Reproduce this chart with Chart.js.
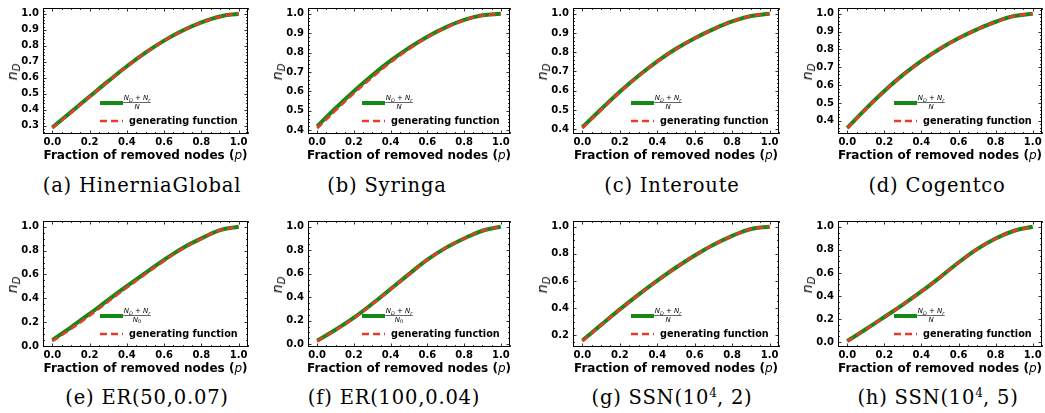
<!DOCTYPE html>
<html><head><meta charset="utf-8">
<script src="https://cdn.jsdelivr.net/npm/chart.js@4.4.0/dist/chart.umd.min.js"></script>
<style>
body{margin:0;width:1045px;height:413px;background:#fff;position:relative;overflow:hidden;font-family:'DejaVu Sans';}
canvas{position:absolute;}
.cap{position:absolute;font-family:'DejaVu Serif';font-size:19.5px;transform:translate(-50%,-50%);white-space:nowrap;letter-spacing:0.8px;color:#000;}
.cap sup{font-size:12px;vertical-align:0.55em;line-height:0;letter-spacing:0;}
.xl{position:absolute;font:bold 12px 'DejaVu Sans';transform:translate(-50%,-50%);white-space:nowrap;color:#000;}
.xl i{font-weight:normal;}
.yl{position:absolute;font:italic 14px 'DejaVu Sans';transform:translate(-50%,-50%) rotate(-90deg);white-space:nowrap;color:#000;}
.yl sub{font-size:10px;vertical-align:-0.25em;line-height:0;}
</style></head><body>
<script>
// ---- data ----
const p = [0.0, 0.1, 0.2, 0.3, 0.4, 0.5, 0.6, 0.7, 0.8, 0.9, 1.0];
const xTicks = [0.0, 0.2, 0.4, 0.6, 0.8, 1.0];

const aSim = [0.29, 0.386, 0.483, 0.579, 0.672, 0.757, 0.832, 0.895, 0.946, 0.983, 1.0];
const aGen = [0.285, 0.382, 0.480, 0.577, 0.670, 0.756, 0.831, 0.894, 0.945, 0.983, 1.0];
const bSim = [0.42, 0.513, 0.601, 0.683, 0.758, 0.824, 0.882, 0.93, 0.968, 0.992, 1.0];
const bGen = [0.41, 0.502, 0.59, 0.673, 0.75, 0.818, 0.878, 0.927, 0.966, 0.991, 1.0];
const cSim = [0.41, 0.504, 0.595, 0.678, 0.753, 0.818, 0.873, 0.92, 0.96, 0.988, 1.0];
const cGen = [0.405, 0.50, 0.592, 0.676, 0.751, 0.817, 0.872, 0.92, 0.96, 0.988, 1.0];
const dSim = [0.36, 0.467, 0.567, 0.657, 0.736, 0.804, 0.862, 0.912, 0.955, 0.987, 1.0];
const dGen = [0.358, 0.465, 0.565, 0.655, 0.734, 0.803, 0.861, 0.911, 0.954, 0.987, 1.0];
const eSim = [0.05, 0.157, 0.27, 0.387, 0.502, 0.614, 0.722, 0.822, 0.902, 0.972, 1.0];
const eGen = [0.04, 0.143, 0.255, 0.373, 0.49, 0.604, 0.714, 0.816, 0.899, 0.97, 1.0];
const fSim = [0.03, 0.123, 0.226, 0.344, 0.47, 0.597, 0.72, 0.82, 0.90, 0.966, 1.0];
const fGen = [0.025, 0.118, 0.221, 0.34, 0.466, 0.594, 0.718, 0.819, 0.899, 0.966, 1.0];
const gSim = [0.16, 0.276, 0.39, 0.499, 0.602, 0.699, 0.788, 0.867, 0.933, 0.983, 1.0];
const gGen = [0.155, 0.273, 0.388, 0.497, 0.6, 0.698, 0.787, 0.866, 0.932, 0.983, 1.0];
const hSim = [0.01, 0.112, 0.218, 0.326, 0.44, 0.562, 0.69, 0.806, 0.898, 0.965, 1.0];
const hGen = [0.008, 0.11, 0.216, 0.324, 0.438, 0.56, 0.688, 0.805, 0.897, 0.965, 1.0];

const yTicksA = [0.3, 0.4, 0.5, 0.6, 0.7, 0.8, 0.9, 1.0];
const yTicksBCD = [0.4, 0.5, 0.6, 0.7, 0.8, 0.9, 1.0];
const yTicksEFH = [0.0, 0.2, 0.4, 0.6, 0.8, 1.0];
const yTicksG = [0.2, 0.4, 0.6, 0.8, 1.0];

const captions = ['(a) HinerniaGlobal', '(b) Syringa', '(c) Interoute', '(d) Cogentco',
  '(e) ER(50,0.07)', '(f) ER(100,0.04)', '(g) SSN(10<sup>4</sup>, 2)', '(h) SSN(10<sup>4</sup>, 5)'];
const simLabelDen = ['N', 'N', 'N', 'N', 'N0', 'N0', 'N', 'N'];
const genLabel = 'generating function';

// ---- layout ----
const GREEN = '#138a13', RED = '#ea3a2b';
const panels = [
  {sim: aSim, gen: aGen, yt: yTicksA, L: 43, R: 248, T: 6, B: 134, cx: 142, cy: 185},
  {sim: bSim, gen: bGen, yt: yTicksBCD, L: 308, R: 510, T: 6, B: 134, cx: 387, cy: 185},
  {sim: cSim, gen: cGen, yt: yTicksBCD, L: 573, R: 779, T: 6, B: 134, cx: 672, cy: 185},
  {sim: dSim, gen: dGen, yt: yTicksBCD, L: 838, R: 1042, T: 6, B: 134, cx: 937, cy: 185},
  {sim: eSim, gen: eGen, yt: yTicksEFH, L: 43, R: 248, T: 219, B: 347, cx: 147, cy: 397},
  {sim: fSim, gen: fGen, yt: yTicksEFH, L: 308, R: 510, T: 219, B: 347, cx: 394, cy: 397},
  {sim: gSim, gen: gGen, yt: yTicksG, L: 573, R: 779, T: 219, B: 347, cx: 672, cy: 397},
  {sim: hSim, gen: hGen, yt: yTicksEFH, L: 838, R: 1042, T: 219, B: 347, cx: 938, cy: 397},
];

const PADL = 40, PADT = 8, PADR = 3, XH = 16;

function drawTextPieces(ctx, pieces, cx, y, size) {
  let total = 0;
  pieces.forEach(pc => {
    ctx.font = (pc.it ? 'italic ' : '') + (pc.sub ? size * 0.7 : size) + 'px "DejaVu Sans"';
    pc.w = ctx.measureText(pc.t).width; total += pc.w;
  });
  let x = cx - total / 2;
  pieces.forEach(pc => {
    ctx.font = (pc.it ? 'italic ' : '') + (pc.sub ? size * 0.7 : size) + 'px "DejaVu Sans"';
    ctx.fillText(pc.t, x, y + (pc.sub ? size * 0.25 : 0));
    x += pc.w;
  });
  return total;
}

const framePlugin = {
  id: 'frame',
  afterDatasetsDraw(chart, args, opts) {
    const ctx = chart.ctx, a = chart.chartArea;
    const xs = chart.scales.x, ys = chart.scales.y;
    ctx.save();
    ctx.strokeStyle = '#000';
    ctx.lineWidth = 1;
    ctx.strokeRect(Math.round(a.left) + 0.5, Math.round(a.top) + 0.5, Math.round(a.right - a.left) - 1, Math.round(a.bottom - a.top) - 1);
    ctx.lineWidth = 0.8;
    const tick = (x1, y1, x2, y2) => { ctx.beginPath(); ctx.moveTo(x1, y1); ctx.lineTo(x2, y2); ctx.stroke(); };
    // x ticks
    const xMinor = 0.05;
    for (let k = -1; k <= 21; k++) {
      const v = k * xMinor;
      if (v < xs.min - 1e-9 || v > xs.max + 1e-9) continue;
      const major = k % 4 === 0 && v >= 0 && v <= 1.0001;
      const len = major ? 3.5 : 2;
      const px = Math.round(xs.getPixelForValue(v)) + 0.5;
      tick(px, a.bottom, px, a.bottom - len);
      tick(px, a.top, px, a.top + len);
    }
    // y ticks
    const yt = opts.yt;
    const step = yt[1] - yt[0];
    const sub = Math.abs(step - 0.1) < 1e-6 ? 5 : 4;
    const mstep = step / sub;
    const start = Math.ceil((ys.min - 1e-9) / mstep);
    const end = Math.floor((ys.max + 1e-9) / mstep);
    for (let k = start; k <= end; k++) {
      const v = k * mstep;
      const major = Math.abs(k % sub) === 0;
      const len = major ? 3.5 : 2;
      const py = Math.round(ys.getPixelForValue(v)) + 0.5;
      tick(a.left, py, a.left + len, py);
      tick(a.right, py, a.right - len, py);
    }
    // legend
    const ds = chart.data.datasets;
    const gy = a.bottom - 31, ry = a.bottom - 13;
    const lx1 = a.right - 148, lx2 = a.right - 125;
    ctx.lineWidth = ds[0].borderWidth; ctx.strokeStyle = ds[0].borderColor; ctx.setLineDash([]);
    tick(lx1, gy, lx2, gy);
    ctx.lineWidth = ds[1].borderWidth; ctx.strokeStyle = ds[1].borderColor; ctx.setLineDash(ds[1].borderDash);
    tick(lx1, ry, lx2, ry);
    ctx.setLineDash([]);
    ctx.fillStyle = '#000';
    ctx.textBaseline = 'middle';
    ctx.textAlign = 'left';
    const fcx = a.right - 111;
    const w = drawTextPieces(ctx, [
      {t: 'N', it: true}, {t: 'D', it: true, sub: true}, {t: ' + '}, {t: 'N', it: true}, {t: 'r', it: true, sub: true}
    ], fcx, gy - 4.5, 7);
    ctx.lineWidth = 0.6; ctx.strokeStyle = '#000';
    tick(fcx - w / 2 - 0.5, gy - 0.5, fcx + w / 2 + 0.5, gy - 0.5);
    const den = opts.den === 'N0' ? [{t: 'N', it: true}, {t: '0', sub: true}] : [{t: 'N', it: true}];
    drawTextPieces(ctx, den, fcx, gy + 4, 7);
    ctx.font = 'bold 9.7px "DejaVu Sans"';
    ctx.fillText(ds[1].label, a.right - 119, ry + 0.5);
    ctx.restore();
  }
};

panels.forEach((pn, i) => {
  const cv = document.createElement('canvas');
  const W = pn.R - pn.L + PADL + PADR;
  const H = pn.B - pn.T + PADT + XH;
  cv.width = W; cv.height = H;
  cv.style.left = (pn.L - PADL) + 'px';
  cv.style.top = (pn.T - PADT) + 'px';
  cv.style.width = W + 'px'; cv.style.height = H + 'px';
  document.body.appendChild(cv);

  const lo = Math.min(...pn.sim, ...pn.gen), hi = Math.max(...pn.sim, ...pn.gen);
  const pad = 0.05 * (hi - lo);
  const tickFont = {family: 'DejaVu Sans', weight: 'bold', size: 10};

  new Chart(cv, {
    type: 'line',
    data: {
      datasets: [
        {label: 'sim', data: p.map((x, k) => ({x, y: pn.sim[k]})), borderColor: GREEN, borderWidth: 4,
         pointRadius: 0, tension: 0.4, fill: false, order: 2, borderCapStyle: 'butt'},
        {label: genLabel, data: p.map((x, k) => ({x, y: pn.gen[k]})), borderColor: RED, borderWidth: 2.6,
         borderDash: [7, 4], pointRadius: 0, tension: 0.4, fill: false, order: 1}
      ]
    },
    options: {
      responsive: false, animation: false, events: [], devicePixelRatio: 1,
      layout: {padding: {left: 0, top: PADT, right: PADR, bottom: 0}},
      plugins: {legend: {display: false}, tooltip: {enabled: false},
        frame: {yt: pn.yt, den: simLabelDen[i]}},
      scales: {
        x: {type: 'linear', min: -0.05, max: 1.05,
          grid: {display: false, drawTicks: false}, border: {display: false},
          afterBuildTicks: s => { s.ticks = xTicks.map(v => ({value: v})); },
          afterFit: s => { s.height = XH; },
          ticks: {font: tickFont, color: '#000', padding: 2, maxRotation: 0, autoSkip: false,
            callback: v => Number(v).toFixed(1)}},
        y: {type: 'linear', min: lo - pad, max: hi + pad,
          grid: {display: false, drawTicks: false}, border: {display: false},
          afterBuildTicks: s => { s.ticks = pn.yt.map(v => ({value: v})); },
          afterFit: s => { s.width = PADL; },
          ticks: {font: tickFont, color: '#000', padding: 4, autoSkip: false,
            callback: v => Number(v).toFixed(1)}}
      }
    },
    plugins: [framePlugin]
  });

  const cap = document.createElement('div');
  cap.className = 'cap'; cap.innerHTML = captions[i];
  cap.style.left = pn.cx + 'px'; cap.style.top = pn.cy + 'px';
  document.body.appendChild(cap);

  const xl = document.createElement('div');
  xl.className = 'xl'; xl.innerHTML = 'Fraction of removed nodes (<i>p</i>)';
  xl.style.left = ((pn.L + pn.R) / 2) + 'px'; xl.style.top = (pn.B + 21) + 'px';
  document.body.appendChild(xl);

  const yl = document.createElement('div');
  yl.className = 'yl'; yl.innerHTML = '<i>n</i><sub><i>D</i></sub>';
  yl.style.left = (pn.L - 31) + 'px'; yl.style.top = ((pn.T + pn.B) / 2 + 2) + 'px';
  document.body.appendChild(yl);
});
</script>
</body></html>
